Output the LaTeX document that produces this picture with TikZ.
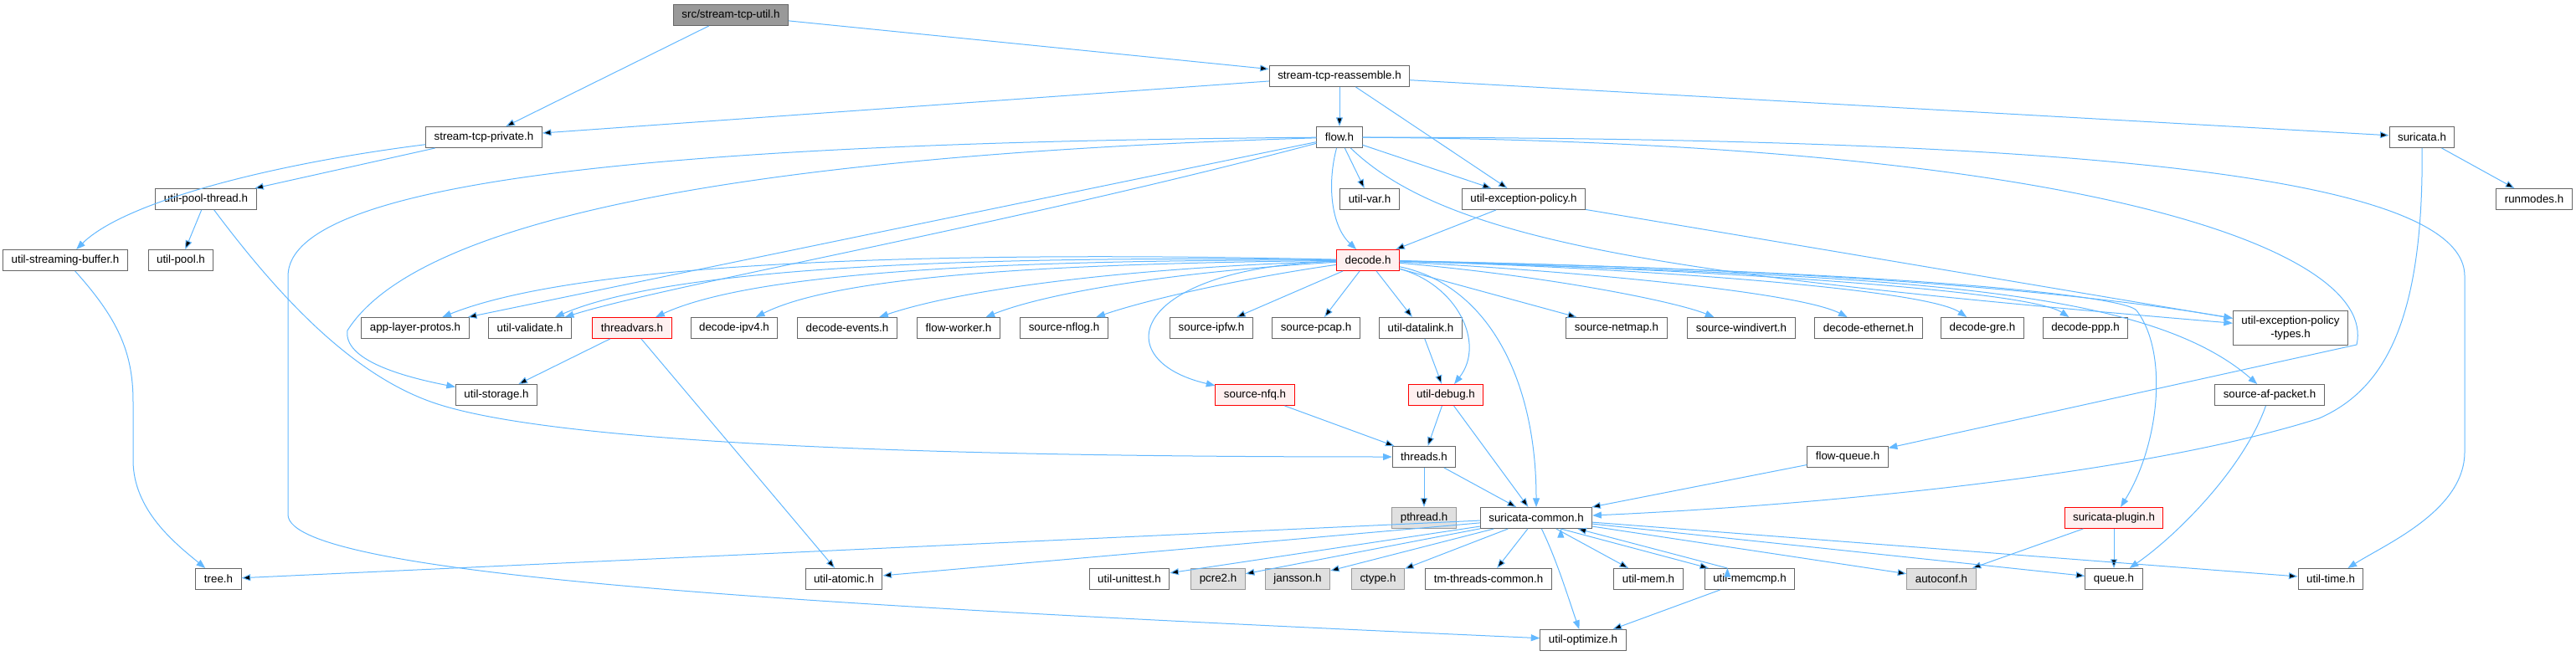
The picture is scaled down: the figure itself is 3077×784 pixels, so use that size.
\documentclass[tikz,border=0pt]{standalone}
\usepackage{fontspec}
\setmainfont{Liberation Sans}
\usetikzlibrary{arrows.meta}
\definecolor{edgeblue}{HTML}{63B8FF}
\definecolor{boxgray}{HTML}{666666}
\definecolor{rootfill}{HTML}{999999}
\definecolor{extfill}{HTML}{E0E0E0}
\definecolor{extline}{HTML}{999999}
\definecolor{hotfill}{HTML}{FFF0F0}
\begin{document}
\begin{tikzpicture}[x=0.75pt,y=-0.75pt,>={Triangle[length=8pt,width=6pt]},
    hdr/.style={draw=boxgray,fill=white,line width=0.75pt,font=\fontsize{10}{12}\selectfont,
      minimum height=18.75pt,inner xsep=7.5pt,inner ysep=0pt},
    hdrroot/.style={hdr,fill=rootfill},
    hdrred/.style={hdr,draw=red,fill=hotfill},
    hdrext/.style={hdr,draw=extline,fill=extfill},
    dep/.style={->,draw=edgeblue,line width=0.75pt}]
          \useasboundingbox (0,0) rectangle (3077,784);
          \node(stu)[hdrroot] at (873,18) {src/stream-tcp-util.h};
          \node(str)[hdr] at (1600,91) {stream-tcp-reassemble.h};
          \node(stp)[hdr] at (578,164) {stream-tcp-private.h};
          \node(flow)[hdr] at (1600,164) {flow.h};
          \node(sur)[hdr] at (2893,164) {suricata.h};
          \node(upt)[hdr] at (246,238) {util-pool-thread.h};
          \node(uvar)[hdr] at (1636,238) {util-var.h};
          \node(uep)[hdr] at (1820,238) {util-exception-policy.h};
          \node(runm)[hdr] at (3027,238) {runmodes.h};
          \node(usb)[hdr] at (78,311) {util-streaming-buffer.h};
          \node(upool)[hdr] at (216,311) {util-pool.h};
          \node(dec)[hdrred] at (1634,311) {decode.h};
          \node(alp)[hdr] at (496,392) {app-layer-protos.h};
          \node(uval)[hdr] at (633,392) {util-validate.h};
          \node(tv)[hdrred] at (755,392) {threadvars.h};
          \node(ipv4)[hdr] at (877,392) {decode-ipv4.h};
          \node(devt)[hdr] at (1012,392) {decode-events.h};
          \node(fwork)[hdr] at (1145,392) {flow-worker.h};
          \node(nflog)[hdr] at (1271,392) {source-nflog.h};
          \node(ipfw)[hdr] at (1447,392) {source-ipfw.h};
          \node(pcap)[hdr] at (1572,392) {source-pcap.h};
          \node(dlink)[hdr] at (1697,392) {util-datalink.h};
          \node(netmap)[hdr] at (1931,392) {source-netmap.h};
          \node(wdiv)[hdr] at (2080,392) {source-windivert.h};
          \node(deth)[hdr] at (2232,392) {decode-ethernet.h};
          \node(dgre)[hdr] at (2368,392) {decode-gre.h};
          \node(dppp)[hdr] at (2491,392) {decode-ppp.h};
          \node(uept)[hdr,align=center,minimum height=30.75pt] at (2736,392) {util-exception-policy\\-types.h};
          \node(ustor)[hdr] at (593,472) {util-storage.h};
          \node(nfq)[hdrred] at (1499,472) {source-nfq.h};
          \node(udbg)[hdrred] at (1727,472) {util-debug.h};
          \node(afp)[hdr] at (2711,472) {source-af-packet.h};
          \node(thr)[hdr] at (1701,546) {threads.h};
          \node(fq)[hdr] at (2207,546) {flow-queue.h};
          \node(pth)[hdrext] at (1701,619) {pthread.h};
          \node(scom)[hdr] at (1835,619) {suricata-common.h};
          \node(splug)[hdrred] at (2525,619) {suricata-plugin.h};
          \node(tree)[hdr] at (261,692) {tree.h};
          \node(uatom)[hdr] at (1008,692) {util-atomic.h};
          \node(utest)[hdr] at (1349,692) {util-unittest.h};
          \node(pcre)[hdrext] at (1455,692) {pcre2.h};
          \node(jans)[hdrext] at (1550,692) {jansson.h};
          \node(ctype)[hdrext] at (1646,692) {ctype.h};
          \node(tmtc)[hdr] at (1778,692) {tm-threads-common.h};
          \node(umem)[hdr] at (1969,692) {util-mem.h};
          \node(umcmp)[hdr] at (2090,692) {util-memcmp.h};
          \node(aconf)[hdrext] at (2319,692) {autoconf.h};
          \node(queue)[hdr] at (2525,692) {queue.h};
          \node(utime)[hdr] at (2784,692) {util-time.h};
          \node(uopt)[hdr] at (1891,765) {util-optimize.h};
          \path[dep] (stu) edge (stp) (stu) edge (str);
          \path[dep] (str) edge (stp) (str) edge (flow) (str) edge (uep) (str) edge (sur);
          \path[dep] (stp) edge (upt) (upt) edge (upool);
          \path[dep] (flow) edge (uvar) (flow) edge (uep) (flow) edge (alp);
          \path[dep] (uep) edge (dec) (uep) edge (uept) (sur) edge (runm);
          \path[dep] (dec) edge (ipfw) (dec) edge (pcap) (dec) edge (dlink) (dec) edge (netmap);
          \path[dep] (tv) edge (ustor) (tv) edge (uatom);
          \path[dep] (nfq) edge (thr) (dlink) edge (udbg) (udbg) edge (thr) (udbg) edge (scom);
          \path[dep] (thr) edge (pth) (thr) edge (scom) (fq) edge (scom);
          \path[dep] (splug) edge (aconf) (splug) edge (queue);
          \path[dep] (scom) edge (tree) (scom) edge (uatom) (scom) edge (utest) (scom) edge (pcre)
            (scom) edge (jans) (scom) edge (ctype) (scom) edge (tmtc) (scom) edge (umem)
            (scom) edge (aconf) (scom) edge (queue) (scom) edge (utime);
          \path[dep] ([xshift=22pt]scom.south) edge ([xshift=4pt]umcmp.north west);
          \path[dep] ([xshift=-20pt]umcmp.north) edge ([xshift=37pt]scom.south);
          \path[dep] (umcmp) edge (uopt);
          \draw[dep] (stp) .. controls (330,195) and (150,240) .. (usb);
          \draw[dep] (usb) .. controls (140,380) and (159,420) .. (159,480) -- (159,550)
            .. controls (159,610) and (210,650) .. (tree);
          \draw[dep] (upt) .. controls (330,350) and (420,450) .. (523,483)
            .. controls (700,540) and (1300,546) .. (thr);
          \draw[dep] (flow) .. controls (1585,220) and (1590,270) .. (dec);
          \draw[dep] (flow) .. controls (1200,270) and (800,340) .. (uval);
          \draw[dep] (flow) .. controls (900,185) and (500,260) .. (415,395)
            .. controls (410,430) and (480,450) .. (ustor);
          \draw[dep] (flow) .. controls (800,170) and (344,215) .. (344,330) -- (344,615)
            .. controls (344,690) and (1000,725) .. (uopt);
          \draw[dep] (flow) .. controls (1730,290) and (2000,330) .. (uept);
          \draw[dep] (flow) .. controls (2400,165) and (2944,200) .. (2944,330) -- (2944,540)
            .. controls (2944,610) and (2850,650) .. (utime);
          \draw[dep] (flow) .. controls (2500,170) and (2840,300) .. (2815,412) -- (fq);
          \draw[dep] (sur) .. controls (2895,380) and (2850,465) .. (2770,500)
            .. controls (2550,570) and (2150,605) .. (scom);
          \draw[dep] (dec) .. controls (1150,300) and (700,310) .. (alp);
          \draw[dep] (dec) .. controls (1150,305) and (800,320) .. (uval);
          \draw[dep] (dec) .. controls (1200,310) and (900,325) .. (tv);
          \draw[dep] (dec) .. controls (1250,315) and (1000,330) .. (ipv4);
          \draw[dep] (dec) .. controls (1350,320) and (1150,345) .. (devt);
          \draw[dep] (dec) .. controls (1400,325) and (1250,350) .. (fwork);
          \draw[dep] (dec) .. controls (1500,330) and (1380,355) .. (nflog);
          \draw[dep] (dec) .. controls (1850,330) and (2000,360) .. (wdiv);
          \draw[dep] (dec) .. controls (1900,325) and (2150,350) .. (deth);
          \draw[dep] (dec) .. controls (1950,320) and (2300,345) .. (dgre);
          \draw[dep] (dec) .. controls (2000,320) and (2420,345) .. (dppp);
          \draw[dep] (dec) .. controls (2000,318) and (2400,335) .. (uept);
          \draw[dep] (dec) .. controls (2250,330) and (2560,340) .. (afp);
          \draw[dep] (dec) .. controls (2300,325) and (2540,355) .. (2552,371)
            .. controls (2590,420) and (2580,530) .. (splug);
          \draw[dep] (dec) .. controls (1350,320) and (1320,430) .. (nfq);
          \draw[dep] (dec) .. controls (1740,340) and (1775,410) .. (udbg);
          \draw[dep] (dec) .. controls (1775,340) and (1835,450) .. (scom);
          \draw[dep] (afp) .. controls (2680,560) and (2600,640) .. (queue);
          \draw[dep] (scom) .. controls (1860,670) and (1875,720) .. (uopt);
        \end{tikzpicture}
\end{document}
